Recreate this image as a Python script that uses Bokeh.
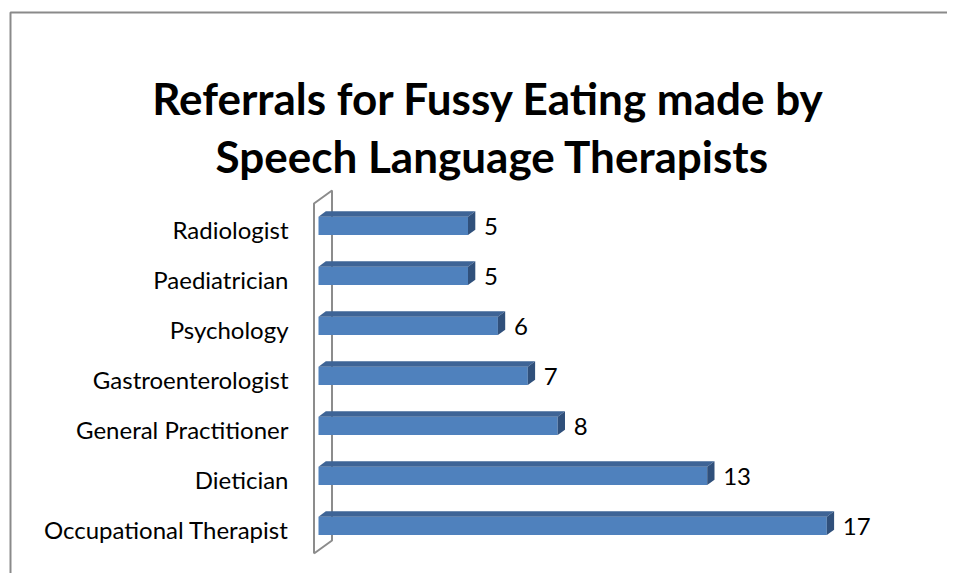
from bokeh.plotting import figure
from bokeh.models import Range1d, ColumnDataSource
from bokeh.core.properties import value
from bokeh.embed import file_html
from bokeh.resources import INLINE

# ---- data ----
categories = ["Occupational Therapist", "Dietician", "General Practitioner",
              "Gastroenterologist", "Psychology", "Paediatrician", "Radiologist"]
counts = [17, 13, 8, 7, 6, 5, 5]
title_lines = ["Referrals for Fussy Eating made by", "Speech Language Therapists"]

# ---- geometry (page-pixel helpers for decoration) ----
X0_PX, X_SCALE = 318.0, 29.9      # page x of value 0, px per unit
Y0_PX, Y_SCALE = 525.3, 50.0      # page y of first category, px per category
OFF_X, OFF_Y = 0.0, 0.0
W, H = 947, 573

def px2x(px):
    return (px - X0_PX) / X_SCALE

def py2y(py):
    return (Y0_PX - py) / Y_SCALE

p = figure(width=W, height=H, output_backend="svg", toolbar_location=None, tools="",
           x_range=Range1d(px2x(OFF_X), px2x(OFF_X + W)),
           y_range=Range1d(py2y(OFF_Y + H), py2y(OFF_Y)),
           min_border=0)
p.axis.visible = False
p.grid.visible = False
p.outline_line_color = None
p.background_fill_color = "white"
p.border_fill_color = "white"

# outer chart border (right/bottom run off the picture)
p.line([px2x(10), px2x(10), px2x(1000)], [py2y(620), py2y(12), py2y(12)],
       line_color="#8a8a8a", line_width=2)

# 3D wall edge
wall_x = [px2x(313.5), px2x(313.5), px2x(331.5), px2x(331.5), px2x(313.5)]
wall_y = [py2y(553), py2y(203), py2y(190), py2y(540), py2y(553)]
p.line(wall_x, wall_y, line_color="#8c8c8c", line_width=2)

# bars
ys = list(range(len(categories)))
half = 18.3 / 2 / Y_SCALE
dx = 7.3 / X_SCALE
dy = 5.3 / Y_SCALE

src = ColumnDataSource(dict(y=ys, v=counts, cat=categories,
                            lbl=[str(c) for c in counts],
                            b=[y - half for y in ys], t=[y + half for y in ys]))
p.quad(left=0, right="v", bottom="b", top="t",
       source=src, fill_color="#4f81bd", line_color=None)

top_xs = [[0, v, v + dx, dx] for v in counts]
top_ys = [[y + half, y + half, y + half + dy, y + half + dy] for y in ys]
p.patches(top_xs, top_ys, fill_color="#3e6496", line_color=None)

side_xs = [[v, v + dx, v + dx, v] for v in counts]
side_ys = [[y - half, y - half + dy, y + half + dy, y + half] for y in ys]
p.patches(side_xs, side_ys, fill_color="#30507b", line_color=None)

font = value("Lato")
# category labels
p.text(x=px2x(288), y="y", text="cat", source=src, text_align="right",
       text_baseline="middle", y_offset=4, text_font=font,
       text_font_size="24px", text_color="#000000")
# value labels
p.text(x="v", y="y", text="lbl", source=src, text_align="left",
       text_baseline="middle", x_offset=16, y_offset=1, text_font=font,
       text_font_size="24px", text_color="#000000")

# title
p.text(x=[px2x(488), px2x(492)], y=[py2y(97), py2y(155)], text=title_lines,
       text_align="center", text_baseline="middle", text_font=font,
       text_font_style="bold", text_font_size="44px", text_color="#000000")

open("out.html", "w").write(file_html(p, INLINE))
